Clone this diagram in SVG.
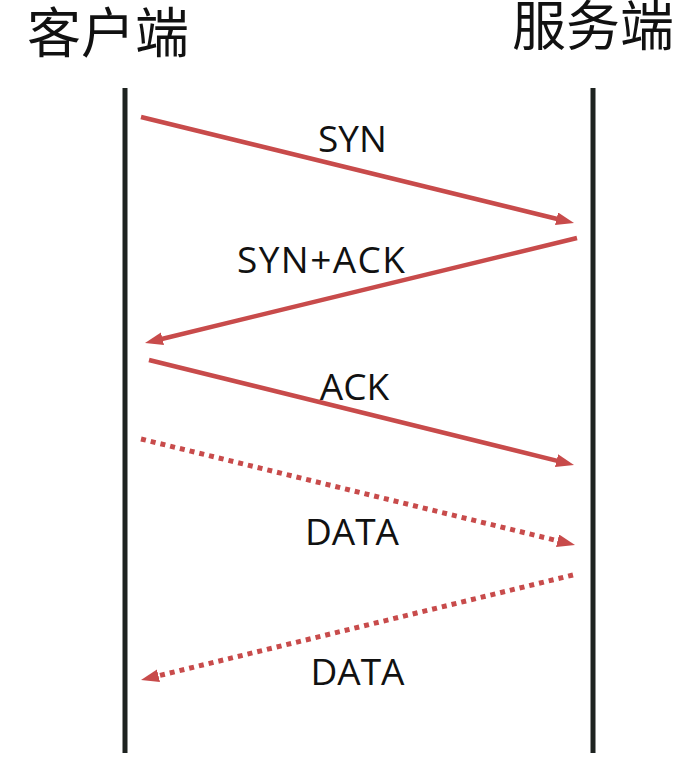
<svg xmlns="http://www.w3.org/2000/svg" width="677" height="769" viewBox="0 0 677 769">
<style>
.title{font-family:"Noto Sans CJK SC","Noto Sans",sans-serif;font-size:54px;fill:#111;text-anchor:middle}
.label{font-family:"Open Sans","Noto Sans",sans-serif;font-size:37px;fill:#111;text-anchor:middle}
.life{stroke:#1e2320;stroke-width:5;fill:none}
.msg{stroke:#c84b4b;stroke-width:4.5;fill:none}
.dot{stroke:#c84b4b;stroke-width:5;stroke-dasharray:5 5;fill:none}
</style>
<defs>
<marker id="ah" markerUnits="userSpaceOnUse" markerWidth="20" markerHeight="14" refX="4" refY="6.5" orient="auto" viewBox="0 0 20 14">
<path d="M0,0 L18,6.5 L0,13 z" fill="#c84b4b"/>
</marker>
</defs>
<rect width="677" height="769" fill="#ffffff"/>
<g id="client">
<text class="title" x="108" y="53">客户端</text>
<line class="life" x1="125" y1="88" x2="125" y2="753"/>
</g>
<g id="server">
<text class="title" x="593" y="46">服务端</text>
<line class="life" x1="593" y1="88" x2="593" y2="753"/>
</g>
<g id="connectors">
<line class="msg" x1="141" y1="117" x2="560.4" y2="219.7" marker-end="url(#ah)"/>
<line class="msg" x1="577" y1="238" x2="158.6" y2="339.7" marker-end="url(#ah)"/>
<line class="msg" x1="149" y1="360" x2="560.4" y2="461.6" marker-end="url(#ah)"/>
<line class="dot" x1="141" y1="439" x2="561.4" y2="541.7" marker-end="url(#ah)"/>
<line class="dot" x1="573" y1="575" x2="154.6" y2="676.7" marker-end="url(#ah)"/>
</g>
<g id="labels">
<text class="label" x="352.5" y="152">SYN</text>
<text class="label" x="321" y="273" textLength="168" lengthAdjust="spacing">SYN+ACK</text>
<text class="label" x="354.5" y="400">ACK</text>
<text class="label" x="352" y="545">DATA</text>
<text class="label" x="357.5" y="685">DATA</text>
</g>
</svg>
